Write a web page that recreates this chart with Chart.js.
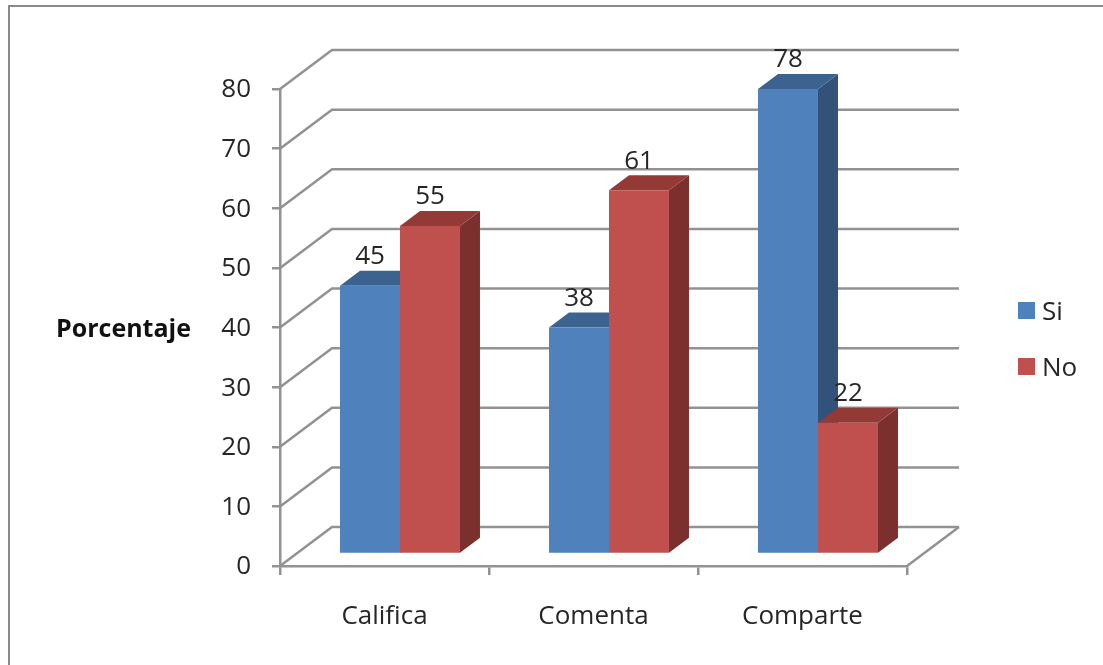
<!DOCTYPE html>
<html>
<head>
<meta charset="utf-8">
<title>Porcentaje</title>
<script src="https://cdn.jsdelivr.net/npm/chart.js@4/dist/chart.umd.min.js"></script>
<style>
    html, body { margin: 0; padding: 0; background: #fff; }
    #wrap { position: relative; width: 1103px; height: 665px; overflow: hidden; }
    #frame { position: absolute; left: 8px; top: 5px; right: -5px; bottom: -5px;
             border: 2.5px solid #8a8a8a; }
    canvas { position: absolute; left: 0; top: 0; }
    #legend { position: absolute; left: 1018px; top: 282px; margin: 0; padding: 0; list-style: none;
              font-family: "Open Sans", sans-serif; font-size: 26px; color: #262626; }
    #legend li { display: flex; align-items: center; height: 56px; }
    #legend span { display: inline-block; width: 17px; height: 17px; margin-right: 7px; }
</style>
</head>
<body>
<div id="wrap">
    <div id="frame"></div>
    <canvas id="chart" width="1103" height="665"></canvas>
    <ul id="legend"></ul>
</div>
<script>
const categories = ['Califica', 'Comenta', 'Comparte'];
const siValues = [45, 38, 78];
const noValues = [55, 61, 22];
const yTicks = [0, 10, 20, 30, 40, 50, 60, 70, 80];

const FONT = '"Open Sans", sans-serif';
const TEXT = '#262626';
const GRID = '#929292';

// how far the back wall sits behind the front axes
const WALL_DX = 52;
const WALL_DY = -39;
// bars stand partway back on the floor
const BAR_DX = 15.5;
const BAR_DY = -12;
// extrusion of each bar
const DEPTH_DX = 20;
const DEPTH_DY = -15;

function polygon(ctx, points, fill) {
    ctx.beginPath();
    points.forEach((p, i) => i ? ctx.lineTo(p[0], p[1]) : ctx.moveTo(p[0], p[1]));
    ctx.closePath();
    ctx.fillStyle = fill;
    ctx.fill();
}

const wallPlugin = {
    id: 'wall',
    beforeDatasetsDraw(chart) {
        const { ctx, chartArea, scales } = chart;
        ctx.save();
        ctx.strokeStyle = GRID;
        ctx.lineWidth = 2.5;
        yTicks.forEach(value => {
            const y = scales.y.getPixelForValue(value);
            ctx.beginPath();
            ctx.moveTo(chartArea.left, y);
            ctx.lineTo(chartArea.left + WALL_DX, y + WALL_DY);
            ctx.lineTo(chartArea.right + WALL_DX, y + WALL_DY);
            ctx.stroke();
        });
        // right edge of the floor
        ctx.beginPath();
        ctx.moveTo(chartArea.right, chartArea.bottom);
        ctx.lineTo(chartArea.right + WALL_DX, chartArea.bottom + WALL_DY);
        ctx.stroke();
        ctx.restore();
    }
};

// side and top faces go under the fronts, which Chart.js draws itself
const bar3dPlugin = {
    id: 'bar3d',
    beforeDatasetsDraw(chart) {
        const { ctx } = chart;
        ctx.save();
        ctx.translate(BAR_DX, BAR_DY);
        chart.data.datasets.forEach((dataset, d) => {
            chart.getDatasetMeta(d).data.forEach(bar => {
                const left = bar.x - bar.width / 2;
                const right = bar.x + bar.width / 2;
                polygon(ctx, [
                    [right, bar.y], [right + DEPTH_DX, bar.y + DEPTH_DY],
                    [right + DEPTH_DX, bar.base + DEPTH_DY], [right, bar.base]
                ], dataset.sideColor);
                polygon(ctx, [
                    [left, bar.y], [left + DEPTH_DX, bar.y + DEPTH_DY],
                    [right + DEPTH_DX, bar.y + DEPTH_DY], [right, bar.y]
                ], dataset.topColor);
            });
        });
        // left on for the fronts, undone in afterDatasetsDraw
    },
    afterDatasetsDraw(chart) {
        const { ctx } = chart;
        ctx.restore();

        ctx.save();
        ctx.fillStyle = TEXT;
        ctx.font = '26px ' + FONT;
        ctx.textAlign = 'center';
        ctx.textBaseline = 'middle';
        chart.data.datasets.forEach((dataset, d) => {
            chart.getDatasetMeta(d).data.forEach((bar, i) => {
                ctx.fillText(dataset.data[i], bar.x + BAR_DX, bar.y + BAR_DY - 14 + DEPTH_DY);
            });
        });

        ctx.fillStyle = '#111';
        ctx.font = 'bold 25px ' + FONT;
        ctx.textAlign = 'left';
        ctx.fillText('Porcentaje', 56, 330);
        ctx.restore();
    }
};

const chart = new Chart(document.getElementById('chart'), {
    type: 'bar',
    data: {
        labels: categories,
        datasets: [{
            label: 'Si',
            data: siValues,
            backgroundColor: '#4f81bd',
            topColor: '#3c628f',
            sideColor: '#335279',
            clip: false
        }, {
            label: 'No',
            data: noValues,
            backgroundColor: '#c0504d',
            topColor: '#933a37',
            sideColor: '#7b302e',
            clip: false
        }]
    },
    options: {
        responsive: false,
        animation: false,
        layout: { padding: { top: 89, right: 196, left: 0, bottom: 0 } },
        categoryPercentage: 0.574,
        barPercentage: 1,
        plugins: {
            legend: { display: false },
            tooltip: { enabled: false }
        },
        scales: {
            x: {
                afterFit: scale => { scale.height = 99; },
                border: { color: GRID, width: 2.5 },
                grid: { drawOnChartArea: false, color: GRID, lineWidth: 2.5, tickLength: 9 },
                ticks: { color: TEXT, font: { family: FONT, size: 26 }, padding: 26, maxRotation: 0 }
            },
            y: {
                min: 0,
                max: 80,
                afterFit: scale => { scale.width = 280; },
                border: { color: GRID, width: 2.5 },
                grid: { drawOnChartArea: false, color: GRID, lineWidth: 2.5, tickLength: 8 },
                ticks: { stepSize: 10, color: TEXT, font: { family: FONT, size: 26 }, padding: 21, labelOffset: 1 }
            }
        }
    },
    plugins: [wallPlugin, bar3dPlugin]
});

const legend = document.getElementById('legend');
chart.data.datasets.forEach(dataset => {
    const li = document.createElement('li');
    const box = document.createElement('span');
    box.style.background = dataset.backgroundColor;
    li.appendChild(box);
    li.appendChild(document.createTextNode(dataset.label));
    legend.appendChild(li);
});
</script>
</body>
</html>
